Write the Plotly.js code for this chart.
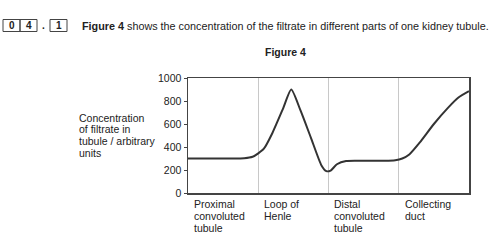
<!DOCTYPE html>
<html><head><meta charset="utf-8">
<script src="https://cdn.plot.ly/plotly-3.0.1.min.js"></script>
<style>html,body{margin:0;padding:0;background:#fff}#c{width:500px;height:252px}</style>
</head><body><div id="c"></div>
<script>
// Data
const positions = [0, 0.3, 0.6, 0.8, 0.92, 1.0, 1.08, 1.2, 1.35, 1.47, 1.6, 1.75, 1.9, 1.97, 2.03, 2.12, 2.25, 2.5, 2.8, 2.95, 3.05, 3.15, 3.3, 3.5, 3.7, 3.85, 4.0];
const concentration = [300, 300, 300, 302, 315, 345, 385, 520, 730, 900, 720, 480, 240, 190, 195, 250, 278, 280, 280, 285, 300, 335, 440, 600, 740, 830, 885];
const categories = ["Proximal<br>convoluted<br>tubule", "Loop of<br>Henle", "Distal<br>convoluted<br>tubule", "Collecting<br>duct"];
const categoryStarts = [0, 1, 2, 3];
const yTicks = [0, 200, 400, 600, 800, 1000];
const dividers = [1, 2, 3];
const yTitle = "Concentration<br>of filtrate in<br>tubule / arbitrary<br>units";

const L = 188, R = 469, T = 78, B = 193;
const px = v => (v - L) / (R - L);
const py = v => (B - v) / (B - T);
const F = "Liberation Sans, Arial, sans-serif";
const TXT = "#222";
const FS = 10.5;
const LH = 11.8;

const annotations = [];
categories.forEach((c, i) => c.split("<br>").forEach((line, j) => annotations.push({
  x: categoryStarts[i] + 0.055, y: py(204 + j * LH), xref: 'x', yref: 'paper', xanchor: 'left', yanchor: 'middle',
  text: line, showarrow: false, align: 'left', font: {family: F, size: FS, color: TXT}
})));
yTitle.split("<br>").forEach((line, j) => annotations.push({
  x: px(77), y: py(117.5 + j * LH), xref: 'paper', yref: 'paper', xanchor: 'left', yanchor: 'middle',
  text: line, showarrow: false, align: 'left', font: {family: F, size: FS, color: TXT}}));
annotations.push({x: px(80), y: py(26), xref: 'paper', yref: 'paper', xanchor: 'left', yanchor: 'middle',
  text: "<b>Figure 4</b> shows the concentration of the filtrate in different parts of one kidney tubule.",
  showarrow: false, font: {family: F, size: 10.8, color: TXT}});
annotations.push({x: px(285), y: py(52), xref: 'paper', yref: 'paper', xanchor: 'center', yanchor: 'middle',
  text: "<b>Figure 4</b>", showarrow: false, font: {family: F, size: 10.5, color: TXT}});
const boxes = [["0", 3, 20], ["4", 20, 37], ["1", 50, 67]];
const shapes = [];
boxes.forEach(b => {
  shapes.push({type: 'rect', xref: 'paper', yref: 'paper', x0: px(b[1]), x1: px(b[2]), y0: py(31.5), y1: py(19.5),
    line: {color: '#444', width: 1}});
  annotations.push({x: px((b[1] + b[2]) / 2), y: py(25.8), xref: 'paper', yref: 'paper', xanchor: 'center', yanchor: 'middle',
    text: "<b>" + b[0] + "</b>", showarrow: false, font: {family: F, size: 10, color: TXT}});
});
annotations.push({x: px(43), y: py(26), xref: 'paper', yref: 'paper', xanchor: 'center', yanchor: 'middle',
  text: "<b>.</b>", showarrow: false, font: {family: F, size: 10, color: TXT}});

Plotly.newPlot('c', [{
  x: positions, y: concentration, type: 'scatter', mode: 'lines',
  line: {color: '#333', width: 2, shape: 'spline', smoothing: 0.6}, hoverinfo: 'skip'
}], {
  width: 500, height: 252,
  margin: {l: L, r: 500 - R, t: T, b: 252 - B, pad: 0},
  paper_bgcolor: '#fff', plot_bgcolor: '#fff', showlegend: false,
  xaxis: {range: [0, 4], tickvals: dividers, showticklabels: false, ticks: '', showgrid: true,
    gridcolor: '#c8c8c8', gridwidth: 1, zeroline: false, showline: true, linecolor: '#444', linewidth: 1.5, mirror: true},
  yaxis: {range: [0, 1000], tickvals: yTicks, ticks: 'outside', ticklen: 3, tickcolor: '#444', showgrid: false,
    zeroline: false, showline: true, linecolor: '#444', linewidth: 1.5, mirror: true,
    tickfont: {family: F, size: 10.5, color: TXT}},
  annotations: annotations, shapes: shapes
}, {staticPlot: true});
</script></body></html>
